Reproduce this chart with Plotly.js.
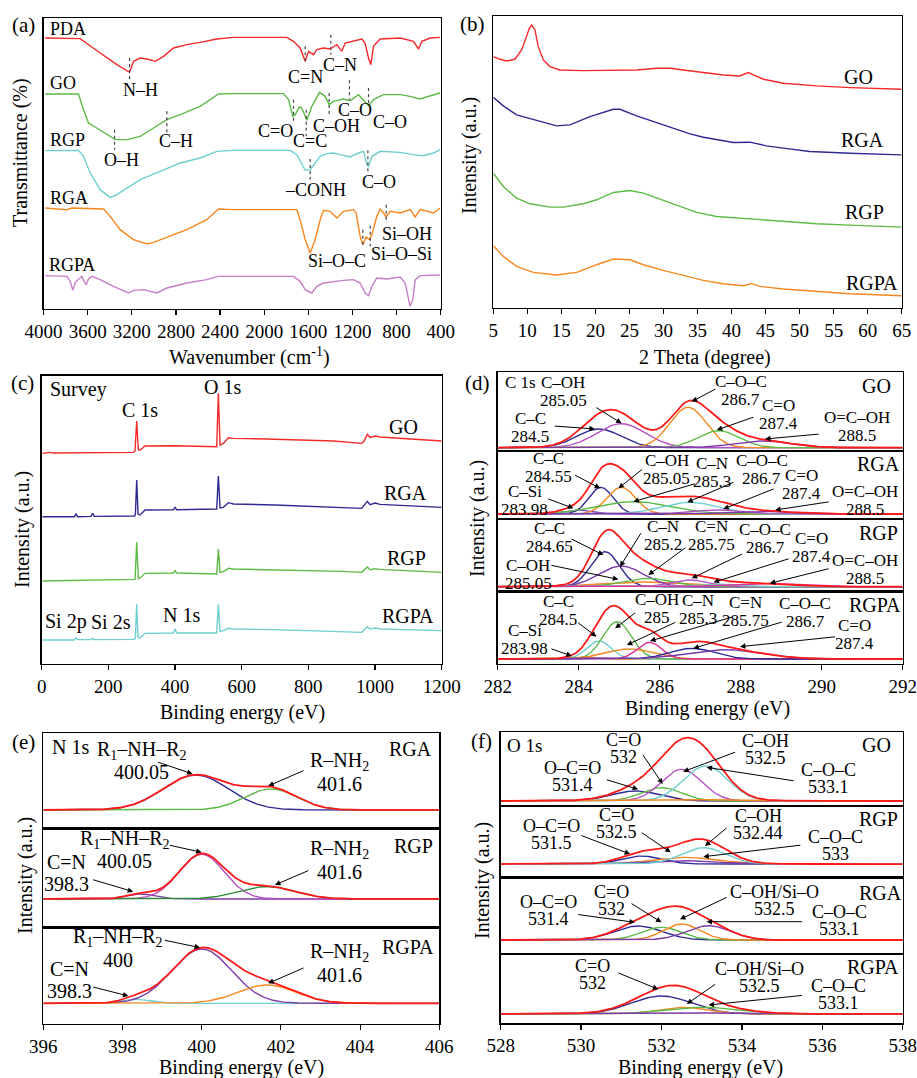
<!DOCTYPE html>
<html><head><meta charset="utf-8">
<script src="https://cdn.plot.ly/plotly-3.0.1.min.js"></script>
<style>html,body{margin:0;padding:0;background:#fff}#chart{width:917px;height:1078px}</style>
</head><body><div id="chart"></div>
<script>
// ================= DATA =================
// (a) FTIR (transmittance, arbitrary offset units)
const ftirPDA_x = [3985,3668,3486,3335,3220,3184,3124,3063,2988,2912,2822,2701,2580,2429,2278,1795,1734,1674,1628,1598,1553,1523,1462,1402,1341,1296,1266,1190,1115,1085,1054,1033,1009,949,767,647,601,571,495,405];
const ftirPDA_y = [813,811,768,733,710,743,753,750,743,758,783,793,800,810,815,815,803,783,743,773,763,778,783,780,793,773,798,803,810,798,753,733,788,810,813,803,780,803,813,815];
const ftirGO_x = [3985,3683,3637,3592,3517,3426,3350,3245,3124,3003,2882,2761,2580,2414,2278,1825,1779,1740,1719,1680,1659,1613,1568,1498,1447,1411,1372,1281,1221,1145,1100,1054,1009,918,767,677,592,495,405];
const ftirGO_y = [645,645,598,558,543,523,508,508,518,543,568,583,608,645,646,646,628,578,583,606,603,566,608,650,638,613,623,630,625,643,628,610,628,643,643,638,630,640,648];
const ftirRGP_x = [3985,3683,3637,3577,3486,3396,3335,3245,3124,2943,2761,2580,2429,2278,1764,1704,1659,1628,1583,1538,1492,1432,1372,1311,1221,1145,1100,1069,1054,1024,949,767,647,556,465,405];
const ftirRGP_y = [475,476,458,408,358,335,343,363,388,413,438,453,473,476,476,463,433,416,418,438,458,466,468,463,456,468,473,433,428,458,473,470,463,460,468,478];
const ftirRGA_x = [3985,3789,3743,3456,3396,3305,3184,3063,3003,2882,2701,2520,2414,2278,1704,1674,1628,1583,1538,1492,1462,1402,1341,1281,1190,1166,1130,1106,1076,1045,1024,979,949,918,894,858,767,677,631,586,465,405];
const ftirRGA_y = [303,298,303,300,278,238,208,195,200,216,238,268,300,298,298,268,208,168,208,268,296,293,273,293,298,288,218,193,216,208,223,278,300,288,276,293,288,298,276,298,288,303];
const ftirRGPA_x = [3985,3789,3758,3734,3713,3683,3653,3631,3613,3592,3562,3486,3366,3230,3184,3094,2973,2882,2701,2520,2414,2278,1734,1674,1628,1568,1523,1462,1372,1281,1190,1130,1085,1054,1024,979,888,767,722,692,677,653,631,586,405];
const ftirRGPA_y = [100,98,83,56,80,88,98,83,73,90,98,88,68,48,56,58,48,63,78,88,98,98,98,83,58,48,68,78,83,86,88,78,48,40,68,93,90,96,78,23,8,28,88,100,102];
const ftirSampleNames = ['PDA','GO','RGP','RGA','RGPA'];
const ftirBandNames = ['N–H','C=N','C–N','C=O','C=C','C–OH','C–O','C–O','O–H','C–H','–CONH','C–O','Si–OH','Si–O–C','Si–O–Si'];
const ftirTicks = [4000,3600,3200,2800,2400,2000,1600,1200,800,400];

// (b) XRD
const xrdGO_x = [5,5.98,6.96,8.18,9.16,9.9,10.3,10.63,10.9,11.12,11.61,12.35,13.33,14.8,18.2,23.1,26.1,29.0,31.0,32.9,35.9,38.8,41.2,42.5,43.2,44.7,47.6,52.5,57.4,65];
const xrdGO_y = [755,747,742,747,775,820,840,850,843,835,785,745,725,715,713,713,715,720,720,715,707,700,697,707,700,687,675,667,662,657];
const xrdRGA_x = [5,6.47,8.43,11.37,14.3,16.26,19.2,22.63,23.6,26.06,29.0,30.96,33.9,35.86,37.8,40.26,42.7,45.15,47.6,51.5,57.4,65];
const xrdRGA_y = [633,607,580,563,547,550,575,597,597,577,557,545,523,513,505,497,498,487,480,470,465,460];
const xrdRGP_x = [5,6.47,8.43,10.39,13.33,15.29,18.23,20.19,22.63,25.08,27.04,29.49,31.93,34.87,37.8,40.26,42.7,47.6,52.5,57.4,65];
const xrdRGP_y = [405,365,330,313,303,303,313,325,347,353,345,327,310,287,275,271,269,260,253,249,243];
const xrdRGPA_x = [5,6.47,8.43,10.88,14.3,17.24,20.19,22.63,25.08,27.04,29.98,32.92,35.86,38.8,41.74,42.96,44.19,47.6,52.5,57.4,65];
const xrdRGPA_y = [187,155,125,107,99,107,130,147,145,130,113,97,83,73,67,73,65,57,49,43,37];
const xrdSampleNames = ['GO','RGA','RGP','RGPA'];

// (c) XPS survey
const svGO_x = [2,25,35,275,280,285,290,295,310,345,400,525,530,535,545,560,575,675,875,960,967,977,985,1000,1015,1200];
const svGO_y = [632,635,633,635,639,729,642,642,654,654,655,652,812,657,662,679,677,675,669,662,669,689,680,684,681,669];
const svRGA_x = [2,98,103,108,148,153,158,278,281,285,289,295,310,395,400,405,525,530,535,545,560,575,700,900,960,967,977,985,1000,1015,1200];
const svRGA_y = [442,442,450,442,443,452,443,444,448,552,450,447,462,463,470,463,465,564,468,470,484,480,477,471,467,476,488,478,483,479,470];
const svRGP_x = [2,275,280,285,290,295,310,395,400,405,525,530,535,545,560,575,700,900,960,967,977,985,1000,1015,1200];
const svRGP_y = [249,252,254,365,256,258,272,273,280,273,270,345,275,277,287,285,283,278,275,282,291,283,286,284,275];
const svRGPA_x = [2,98,103,108,148,153,158,278,281,285,289,295,310,395,400,405,525,530,535,545,560,575,700,900,960,967,977,985,1000,1015,1200];
const svRGPA_y = [72,72,79,73,73,77,73,74,78,179,80,79,92,93,105,93,93,179,98,100,107,105,103,98,95,103,112,105,108,105,100];
const svPeakNames = ['Survey','C 1s','O 1s','Si 2p','Si 2s','N 1s'];

// (d) C 1s fitted components: centre (eV), height, sigma (eV), background
const c1sGO_names = ['C–C','C–OH','C–O–C','C=O','O=C–OH'];
const c1sGO_center = [284.5,285.05,286.7,287.45,288.55];
const c1sGO_height = [56,72,121,51,20];
const c1sGO_sigma = [0.55,0.6,0.45,0.5,0.7];
const c1sGO_base = 10;
const c1sRGA_names = ['C–Si','C–C','C–OH','C–N','C–O–C','C=O','O=C–OH'];
const c1sRGA_center = [283.98,284.55,285.05,285.35,286.75,287.4,288.5];
const c1sRGA_height = [12,80,80,37,35,12,8];
const c1sRGA_sigma = [0.35,0.3,0.35,0.9,0.7,0.6,0.8];
const c1sRGA_base = 15;
const c1sRGP_names = ['C–C','C–OH','C–N','C=N','C–O–C','C=O','O=C–OH'];
const c1sRGP_center = [284.65,285.6,285.05,285.7,286.75,287.4,288.5];
const c1sRGP_height = [105,14,62,25,20,8,10];
const c1sRGP_sigma = [0.35,1.0,0.55,0.6,0.45,0.5,0.8];
const c1sRGP_base = 15;
const c1sRGPA_names = ['C–Si','C–C','C–OH','C–N','C=N','C–O–C','C=O'];
const c1sRGPA_center = [283.98,284.5,284.95,285.25,285.75,286.8,287.6];
const c1sRGPA_height = [5,54,112,30,50,32,28];
const c1sRGPA_sigma = [0.3,0.3,0.35,0.6,0.3,0.55,0.9];
const c1sRGPA_base = 15;

// (e) N 1s
const n1sRGA_names = ['R1–NH–R2','R–NH2'];
const n1sRGA_center = [399.85,401.75];
const n1sRGA_height = [105,63];
const n1sRGA_sigma = [0.82,0.66];
const n1sRGA_base = 55;
const n1sRGP_names = ['C=N','R1–NH–R2','R–NH2'];
const n1sRGP_center = [398.45,400.0,401.65];
const n1sRGP_height = [15,134,37];
const n1sRGP_sigma = [0.35,0.57,0.71];
const n1sRGP_base = 85;
const n1sRGPA_names = ['C=N','R1–NH–R2','R–NH2'];
const n1sRGPA_center = [398.35,400.0,401.65];
const n1sRGPA_height = [12,163,55];
const n1sRGPA_sigma = [0.35,0.75,0.73];
const n1sRGPA_base = 62;

// (f) O 1s
const o1sGO_names = ['O–C=O','C=O','C–OH','C–O–C','bg'];
const o1sGO_center = [531.35,532.0,532.5,533.1,532.5];
const o1sGO_height = [30,40,95,105,4];
const o1sGO_sigma = [0.6,0.5,0.5,0.55,1.5];
const o1sGO_base = 15;
const o1sRGP_names = ['O–C=O','C=O','C–OH','C–O–C'];
const o1sRGP_center = [531.5,532.6,532.44,533.05];
const o1sRGP_height = [24,20,10,49];
const o1sRGP_sigma = [0.5,0.8,0.9,0.55];
const o1sRGP_base = 41;
const o1sRGA_names = ['O–C=O','C=O','C–OH/Si–O','C–O–C'];
const o1sRGA_center = [531.42,532.0,532.5,533.17];
const o1sRGA_height = [42,38,48,43];
const o1sRGA_sigma = [0.6,0.5,0.45,0.55];
const o1sRGA_base = 42;
const o1sRGPA_names = ['C=O','C–OH/Si–O','C–O–C','bg'];
const o1sRGPA_center = [532.0,532.55,533.0,532.5];
const o1sRGPA_height = [54,20,20,3];
const o1sRGPA_sigma = [0.75,0.6,0.9,1.5];
const o1sRGPA_base = 28;

// ================= STYLE / LAYOUT =================
const F = 'Liberation Serif';
const W = 917, H = 1078;
const RED='#f42a2a', GRN='#5cbb45', CYN='#6fcfcf', ORG='#f7861f', PNK='#c77dc7', NAV='#2f2a92', PUR='#7b3aa8', MAG='#b64fc4', HOT='#e0309a', DGR='#2e8b3a';
function xd(a,b){return [a/W,b/W];}
function yd(top,bot){return [1-bot/H,1-top/H];}

const traces = [];
function line(x,y,ax,color,w){traces.push({x,y,xaxis:'x'+ax,yaxis:'y'+ax,type:'scatter',mode:'lines',line:{color,width:w||1.4},hoverinfo:'skip'});}

// (a)
line(ftirPDA_x,ftirPDA_y,'',RED); line(ftirGO_x,ftirGO_y,'',GRN); line(ftirRGP_x,ftirRGP_y,'',CYN); line(ftirRGA_x,ftirRGA_y,'',ORG); line(ftirRGPA_x,ftirRGPA_y,'',PNK);
// (b)
line(xrdGO_x,xrdGO_y,2,RED); line(xrdRGA_x,xrdRGA_y,2,NAV); line(xrdRGP_x,xrdRGP_y,2,GRN); line(xrdRGPA_x,xrdRGPA_y,2,ORG);
// (c)
line(svGO_x,svGO_y,3,RED); line(svRGA_x,svRGA_y,3,NAV); line(svRGP_x,svRGP_y,3,GRN); line(svRGPA_x,svRGPA_y,3,CYN);

function grid(lo,hi){const g=[];for(let v=lo;v<=hi+1e-9;v+=0.02)g.push(+v.toFixed(3));return g;}
function fit(ax,lo,hi,base,centers,heights,sigmas,colors){
  const g=grid(lo,hi); const env=g.map(()=>base);
  centers.forEach((c,k)=>{
    const y=g.map(x=>base+heights[k]*Math.exp(-((x-c)*(x-c))/(2*sigmas[k]*sigmas[k])));
    y.forEach((v,i)=>{env[i]+=v-base;});
    line(g,y,ax,colors[k],1.4);
  });
  line(g,env,ax,'#ff1a1a',1.8);
}
fit(4,282,292,c1sGO_base,c1sGO_center,c1sGO_height,c1sGO_sigma,[NAV,MAG,ORG,GRN,PUR]);
fit(5,282,292,c1sRGA_base,c1sRGA_center,c1sRGA_height,c1sRGA_sigma,[PUR,NAV,ORG,GRN,CYN,MAG,PUR]);
fit(6,282,292,c1sRGP_base,c1sRGP_center,c1sRGP_height,c1sRGP_sigma,[NAV,ORG,PUR,GRN,MAG,CYN,HOT]);
fit(7,282,292,c1sRGPA_base,c1sRGPA_center,c1sRGPA_height,c1sRGPA_sigma,[ORG,CYN,GRN,ORG,HOT,NAV,PUR]);
fit(8,396,406,n1sRGA_base,n1sRGA_center,n1sRGA_height,n1sRGA_sigma,[NAV,GRN]);
fit(9,396,406,n1sRGP_base,n1sRGP_center,n1sRGP_height,n1sRGP_sigma,[PUR,MAG,DGR]);
fit(10,396,406,n1sRGPA_base,n1sRGPA_center,n1sRGPA_height,n1sRGPA_sigma,[CYN,PUR,ORG]);
fit(11,528,538,o1sGO_base,o1sGO_center,o1sGO_height,o1sGO_sigma,[NAV,GRN,MAG,CYN,ORG]);
fit(12,528,538,o1sRGP_base,o1sRGP_center,o1sRGP_height,o1sRGP_sigma,[NAV,ORG,PUR,CYN]);
fit(13,528,538,o1sRGA_base,o1sRGA_center,o1sRGA_height,o1sRGA_sigma,[NAV,GRN,ORG,PUR]);
fit(14,528,538,o1sRGPA_base,o1sRGPA_center,o1sRGPA_height,o1sRGPA_sigma,[NAV,ORG,GRN,PUR]);

// ---------- axes ----------
const layout = {width:W,height:H,margin:{l:0,r:0,t:0,b:0},showlegend:false,paper_bgcolor:'#fff',plot_bgcolor:'rgba(0,0,0,0)',font:{family:F,color:'#000'},annotations:[],shapes:[]};
function ax(extra){return Object.assign({showline:true,linecolor:'#000',linewidth:1.3,mirror:true,showgrid:false,zeroline:false,ticks:'',showticklabels:false,fixedrange:true},extra);}
function bottomX(extra){return ax(Object.assign({ticks:'outside',ticklen:5,tickwidth:1.2,tickcolor:'#000',showticklabels:true,tickfont:{family:F,size:19,color:'#000'}},extra));}
function setAxes(i,xdom,ydom,xr,yr,bottom,tick){
  const xs=i===1?'xaxis':'xaxis'+i, ys=i===1?'yaxis':'yaxis'+i, id=i===1?'':i;
  layout[xs]= bottom? bottomX(Object.assign({domain:xdom,range:xr,anchor:'y'+id},tick)) : ax({domain:xdom,range:xr,anchor:'y'+id});
  layout[ys]= ax({domain:ydom,range:yr,anchor:'x'+id});
}
setAxes(1,xd(43.5,440.7),yd(18,309),[4000,400],[0,873],true,{tickvals:ftirTicks});
setAxes(2,xd(493.3,901.7),yd(16,308),[5,65],[0,877],true,{tick0:5,dtick:5});
setAxes(3,xd(41.7,441.7),yd(375.7,664),[0,1200],[0,865],true,{tick0:0,dtick:200});
const dX=xd(497.7,902.7), eX=xd(43.3,439.3), fX=xd(500.7,902.7);
setAxes(4,dX,yd(372.3,451),[282,292],[0,236],false);
setAxes(5,dX,yd(451,519),[282,292],[0,204],false);
setAxes(6,dX,yd(519,591.7),[282,292],[0,218],false);
setAxes(7,dX,yd(591.7,664),[282,292],[0,217],true,{tick0:282,dtick:2});
setAxes(8,eX,yd(733.3,828.3),[396,406],[0,285],false);
setAxes(9,eX,yd(828.3,927.3),[396,406],[0,297],false);
setAxes(10,eX,yd(927.3,1024),[396,406],[0,290],true,{tick0:396,dtick:2});
setAxes(11,fX,yd(732.3,806),[528,538],[0,221],false);
setAxes(12,fX,yd(806,877.7),[528,538],[0,215],false);
setAxes(13,fX,yd(877.7,954),[528,538],[0,229],false);
setAxes(14,fX,yd(954,1023.3),[528,538],[0,208],true,{tick0:528,dtick:2});

const A = layout.annotations;
function txt(axi,x,y,text,size,anchor,extra){const id=axi===1?'':axi;A.push(Object.assign({xref:'x'+id,yref:'y'+id,x,y,text,showarrow:false,xanchor:anchor||'center',yanchor:'middle',font:{family:F,size:size,color:'#000'}},extra||{}));}
function paper(px,py,text,size,extra){A.push(Object.assign({xref:'paper',yref:'paper',x:px/W,y:1-py/H,text,showarrow:false,xanchor:'center',yanchor:'middle',font:{family:F,size:size,color:'#000'}},extra||{}));}
function multi(axi,x,y,lines,size,gap){lines.forEach((l,i)=>txt(axi,x,y,l,size,'center',{yshift:((lines.length-1)/2-i)*gap}));}
function arrow(axi,tx,ty,hx,hy){const id='x'+axi, iy='y'+axi;A.push({xref:id,yref:iy,axref:id,ayref:iy,x:hx,y:hy,ax:tx,ay:ty,text:'',showarrow:true,arrowhead:2,arrowsize:1.1,arrowwidth:1,arrowcolor:'#000',standoff:0,startstandoff:0});}

// panel letters
[['(a)',23,25],['(b)',472,24],['(c)',22,383],['(d)',478,383],['(e)',23,742],['(f)',481,741]].forEach(p=>paper(p[1],p[2],p[0],21));
// axis titles
paper(249,356,'Wavenumber (cm<sup>-1</sup>)',20);
paper(21,153,'Transmittance (%)',20,{textangle:-90});
paper(705,357,'2 Theta (degree)',20);
paper(469,155,'Intensity (a.u.)',20,{textangle:-90});
paper(242,712,'Binding energy (eV)',20);
paper(22,530,'Intensity (a.u.)',20,{textangle:-90});
paper(707,708,'Binding energy (eV)',20);
paper(477,518,'Intensity (a.u.)',20,{textangle:-90});
paper(241,1067,'Binding energy (eV)',20);
paper(25,876,'Intensity (a.u.)',20,{textangle:-90});
paper(700,1067,'Binding energy (eV)',20);
paper(482,881,'Intensity (a.u.)',20,{textangle:-90});

// (a) labels
const aSampleX=[3955,3955,3955,3955,3970], aSampleY=[840,678,508,333,131];
ftirSampleNames.forEach((n,i)=>txt(1,aSampleX[i],aSampleY[i],n,18,'left'));
const aTX=[3124,1628,1311,1900,1583,1347,1175,864,3290,2798,1538,958,707,1341,752];
const aTY=[658,696,731,533,503,550,598,560,446,503,358,380,226,143,166];
const aMX=[3220,1628,1396,1734,1619,1411,1227,1054,3356,2882,1583,1060,894,1106,1039];
const aMY0=[753,788,823,628,598,648,686,663,538,593,450,476,313,238,250];
const aMY1=[688,738,763,558,518,578,628,608,478,528,388,408,258,188,188];
ftirBandNames.forEach((n,i)=>{txt(1,aTX[i],aTY[i],n,18);layout.shapes.push({type:'line',xref:'x',yref:'y',x0:aMX[i],x1:aMX[i],y0:aMY0[i],y1:aMY1[i],line:{color:'#444',width:1.2,dash:'dot'}});});

// (b) labels
[[58.6,693],[59.3,505],[59.5,288],[60.6,75]].forEach((p,i)=>txt(2,p[0],p[1],xrdSampleNames[i],20));
// (c) labels
[[1085,712],[1090,512],[1093,319],[1100,145]].forEach((p,i)=>txt(3,p[0],p[1],xrdSampleNames[i],20));
txt(3,18,825,svPeakNames[0],20,'left');
txt(3,295,762,svPeakNames[1],20); txt(3,543,832,svPeakNames[2],20);
txt(3,73,127,svPeakNames[3],20); txt(3,208,127,svPeakNames[4],20); txt(3,418,147,svPeakNames[5],20);

// generic peak label: [axis, lines, textX, textY, tailX, tailY, headX, headY]
function peakLabels(list,size,gap){list.forEach(p=>{multi(p[0],p[2],p[3],p[1],size,gap);arrow(p[0],p[4],p[5],p[6],p[7]);});}
// (d)
txt(4,282.14,206,'C 1s',17,'left');
txt(4,291.36,196,'GO',20); txt(5,291.4,164,'RGA',20); txt(6,291.4,177,'RGP',20); txt(7,291.32,177,'RGPA',20);
peakLabels([
 [4,['C–OH','285.05'],283.62,178,284.40,133,285.06,83],
 [4,['C–C','284.5'],282.80,71,283.37,75,284.40,66],
 [4,['C–O–C','286.7'],288.0,180,287.41,188,286.79,148],
 [4,['C=O','287.4'],288.93,110,288.35,103,287.41,63],
 [4,['O=C–OH','288.5'],290.86,74,289.96,51,288.6,36],
 [5,['C–C','284.55'],283.25,156,283.87,134,284.53,92],
 [5,['C–Si','283.98'],282.67,56,283.21,62,283.87,32],
 [5,['C–OH','285.05'],286.17,150,285.60,152,284.98,92],
 [5,['C–N','285.3'],287.28,140,286.91,107,285.35,52],
 [5,['C–O–C','286.7'],288.52,150,287.86,112,286.68,50],
 [5,['C=O','287.4'],289.51,104,288.85,92,287.57,30],
 [5,['O=C–OH','288.5'],291.07,56,290.21,52,288.85,27],
 [6,['C–C','284.65'],283.29,163,283.79,160,284.61,110],
 [6,['C–OH','285.05'],282.76,53,283.29,80,284.98,37],
 [6,['C–N','285.2'],286.09,169,285.56,180,285.02,75],
 [6,['C=N','285.75'],287.28,169,286.67,135,285.72,50],
 [6,['C–O–C','286.7'],288.60,159,288.07,115,286.79,40],
 [6,['C=O','287.4'],289.75,134,289.22,100,287.33,28],
 [6,['O=C–OH','288.5'],291.07,68,290.21,70,288.72,25],
 [7,['C–C','284.5'],283.50,161,283.95,127,284.44,82],
 [7,['C–Si','283.98'],282.67,75,283.29,47,283.83,24],
 [7,['C–OH','285'],285.93,168,285.43,157,284.90,107],
 [7,['C–N','285.3'],286.95,164,286.42,127,285.19,57],
 [7,['C=N','285.75'],288.11,157,287.82,142,285.76,69],
 [7,['C–O–C','286.7'],289.59,154,289.05,127,286.83,47],
 [7,['C=O','287.4'],290.82,88,290.37,82,287.98,52]
],17,18);
// (e)
txt(8,396.17,245,'N 1s',20,'left');
txt(8,405.26,237,'RGA',20); txt(9,405.34,244,'RGP',20); txt(10,405.22,230,'RGPA',20);
const R12='R<sub>1</sub>–NH–R<sub>2</sub>', RNH2='R–NH<sub>2</sub>';
peakLabels([
 [8,[R12,'400.05'],398.48,201,398.86,200,399.77,163],
 [8,[RNH2,'401.6'],403.49,167,402.61,175,401.68,127],
 [9,[R12,'400.05'],398.06,231,399.16,247,400.0,225],
 [9,['C=N','398.3'],396.59,164,397.22,144,398.27,107],
 [9,[RNH2,'401.6'],403.49,199,402.73,172,401.85,127],
 [10,[R12,'400'],397.89,225,399.03,252,399.96,229],
 [10,['C=N','398.3'],396.67,131,397.22,112,398.15,84],
 [10,[RNH2,'401.6'],403.49,181,402.61,170,401.68,122]
],20,22);
// (f)
txt(11,528.11,180,'O 1s',19,'left');
txt(11,537.35,183,'GO',20); txt(12,537.39,175,'RGP',20); txt(13,537.44,184,'RGA',20); txt(14,537.27,168,'RGPA',20);
peakLabels([
 [11,['C=O','532'],531.05,173,531.51,158,532.03,66],
 [11,['O–C=O','531.4'],529.79,88,530.60,80,531.42,50],
 [11,['C–OH','532.5'],534.58,168,533.87,163,532.54,103],
 [11,['C–O–C','533.1'],536.15,83,535.32,75,533.12,116],
 [12,['O–C=O','531.5'],529.27,129,529.97,128,531.22,71],
 [12,['C=O','532.5'],530.89,162,531.47,138,532.23,76],
 [12,['C–OH','532.44'],534.41,159,533.66,153,533.08,95],
 [12,['C–O–C','533'],536.32,97,535.49,98,533.04,63],
 [13,['O–C=O','531.4'],529.19,130,529.89,119,531.34,95],
 [13,['C=O','532'],530.76,162,531.22,154,532.0,95],
 [13,['C–OH/Si–O','532.5'],534.82,162,533.66,172,532.46,104],
 [13,['C–O–C','533.1'],536.44,100,535.53,97,533.12,97],
 [14,['C=O','532'],530.29,146,530.89,153,531.92,102],
 [14,['C–OH/Si–O','532.5'],534.45,138,533.37,120,532.63,58],
 [14,['C–O–C','533.1'],536.40,86,535.53,84,533.17,55]
],18,17);

Plotly.newPlot('chart',traces,layout,{staticPlot:true,displayModeBar:false});
</script></body></html>
